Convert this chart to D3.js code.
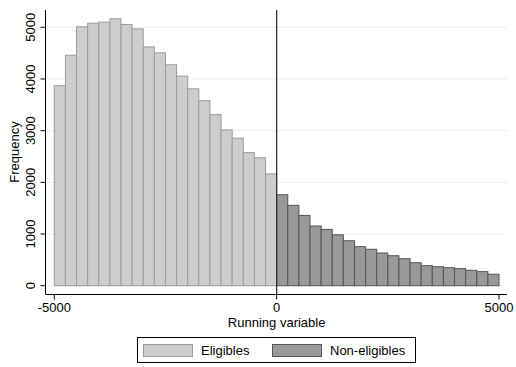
<!DOCTYPE html>
<html>
<head>
<meta charset="utf-8">
<script src="https://cdn.jsdelivr.net/npm/d3@7"></script>
<style>
  body { margin: 0; background: #fff; }
  svg { display: block; font-family: "Liberation Sans", Arial, Helvetica, sans-serif; }
</style>
</head>
<body>
<svg id="chart" width="516" height="367"></svg>
<script>
// bin width 250, left bins start at -5000, right bins start at 0
const binWidth = 250;
const eligibles = [3870, 4460, 5010, 5080, 5100, 5165, 5055, 4970, 4620, 4505,
                   4275, 4055, 3810, 3580, 3310, 3015, 2855, 2575, 2475, 2165];
const nonEligibles = [1760, 1555, 1360, 1155, 1090, 985, 870, 755, 705, 632,
                      580, 522, 445, 388, 367, 348, 330, 298, 272, 222];
const xTicks = [-5000, 0, 5000];
const yTicks = [0, 1000, 2000, 3000, 4000, 5000];

const svg = d3.select('#chart');

const x = d3.scaleLinear().domain([-5000, 5000]).range([54.3, 499]);
const y = d3.scaleLinear().domain([0, 5000]).range([285.7, 27.3]);

const plotLeft = 45.5, plotRight = 507, plotTop = 10, axisY = 294.5;

// grid lines
svg.append('g').selectAll('line')
    .data(yTicks)
    .join('line')
    .attr('x1', plotLeft).attr('x2', plotRight)
    .attr('y1', d => y(d)).attr('y2', d => y(d))
    .attr('stroke', '#e6eff0')
    .attr('stroke-width', 1);

// bars
const leftBins = eligibles.map((v, i) => ({ x0: -5000 + i * binWidth, v }));
const rightBins = nonEligibles.map((v, i) => ({ x0: i * binWidth, v }));

svg.append('g').selectAll('rect')
    .data(leftBins)
    .join('rect')
    .attr('x', d => x(d.x0))
    .attr('y', d => y(d.v))
    .attr('width', d => x(d.x0 + binWidth) - x(d.x0))
    .attr('height', d => y(0) - y(d.v))
    .attr('fill', '#cdcdcd')
    .attr('stroke', '#9c9c9c')
    .attr('stroke-width', 1);

svg.append('g').selectAll('rect')
    .data(rightBins)
    .join('rect')
    .attr('x', d => x(d.x0))
    .attr('y', d => y(d.v))
    .attr('width', d => x(d.x0 + binWidth) - x(d.x0))
    .attr('height', d => y(0) - y(d.v))
    .attr('fill', '#999999')
    .attr('stroke', '#555555')
    .attr('stroke-width', 1);

// cutoff line
svg.append('line')
    .attr('x1', x(0)).attr('x2', x(0))
    .attr('y1', plotTop).attr('y2', axisY)
    .attr('stroke', '#333')
    .attr('stroke-width', 1.3);

// y axis
const yAxis = svg.append('g');
yAxis.append('line')
    .attr('x1', plotLeft).attr('x2', plotLeft)
    .attr('y1', plotTop).attr('y2', axisY)
    .attr('stroke', '#000');
yAxis.selectAll('line.tick')
    .data(yTicks)
    .join('line')
    .attr('class', 'tick')
    .attr('x1', plotLeft - 5).attr('x2', plotLeft)
    .attr('y1', d => y(d)).attr('y2', d => y(d))
    .attr('stroke', '#000');
yAxis.selectAll('text')
    .data(yTicks)
    .join('text')
    .attr('transform', d => `translate(35,${y(d)}) rotate(-90)`)
    .attr('text-anchor', 'middle')
    .attr('font-size', 13)
    .text(d => d);

svg.append('text')
    .attr('transform', 'translate(19,152) rotate(-90)')
    .attr('text-anchor', 'middle')
    .attr('font-size', 13)
    .text('Frequency');

// x axis
const xAxis = svg.append('g');
xAxis.append('line')
    .attr('x1', plotLeft).attr('x2', plotRight)
    .attr('y1', axisY).attr('y2', axisY)
    .attr('stroke', '#000');
xAxis.selectAll('line.tick')
    .data(xTicks)
    .join('line')
    .attr('class', 'tick')
    .attr('x1', d => x(d)).attr('x2', d => x(d))
    .attr('y1', axisY).attr('y2', axisY + 5)
    .attr('stroke', '#000');
xAxis.selectAll('text')
    .data(xTicks)
    .join('text')
    .attr('x', d => x(d))
    .attr('y', 312)
    .attr('text-anchor', 'middle')
    .attr('font-size', 13)
    .text(d => d);

svg.append('text')
    .attr('x', x(0))
    .attr('y', 327)
    .attr('text-anchor', 'middle')
    .attr('font-size', 13)
    .text('Running variable');

// legend
const legend = svg.append('g');
legend.append('rect')
    .attr('x', 137.5).attr('y', 337.5)
    .attr('width', 278).attr('height', 25)
    .attr('fill', '#fff')
    .attr('stroke', '#000');

const legendItems = [
    { label: 'Eligibles', fill: '#cdcdcd', stroke: '#9c9c9c', x: 143.5, tx: 201 },
    { label: 'Non-eligibles', fill: '#999999', stroke: '#555555', x: 272.5, tx: 330 }
];
legendItems.forEach(item => {
    legend.append('rect')
        .attr('x', item.x).attr('y', 344.5)
        .attr('width', 49).attr('height', 12)
        .attr('fill', item.fill)
        .attr('stroke', item.stroke);
    legend.append('text')
        .attr('x', item.tx).attr('y', 355)
        .attr('font-size', 13)
        .text(item.label);
});
</script>
</body>
</html>
